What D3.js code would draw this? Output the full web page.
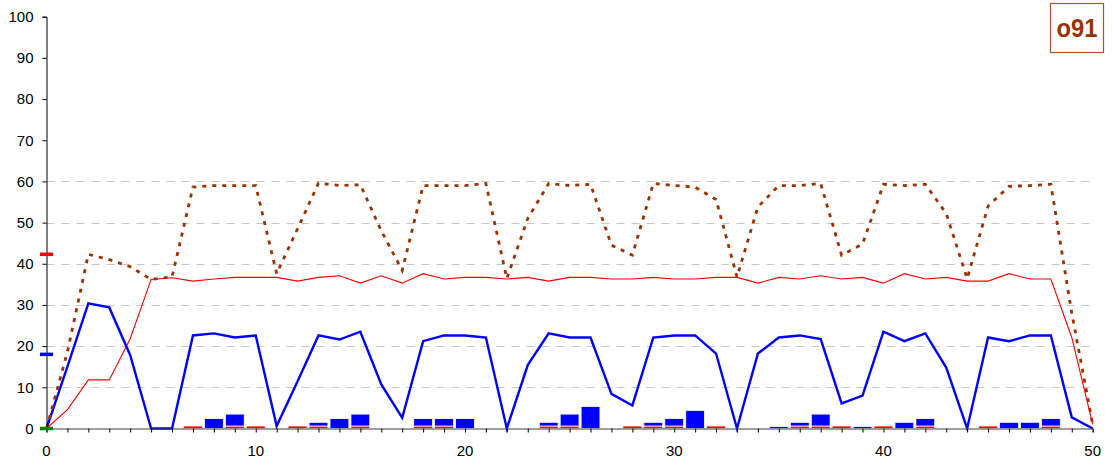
<!DOCTYPE html>
<html>
<head>
<meta charset="utf-8">
<script src="https://cdn.jsdelivr.net/npm/d3@7"></script>
<style>
  html, body { margin: 0; padding: 0; background: #fff; }
  svg { display: block; }
  text { font-family: "Liberation Sans", Arial, sans-serif; }
</style>
</head>
<body>
<svg id="chart" width="1112" height="461"></svg>
<script>
// Series values, one per x step (0..50)
const steps = d3.range(0, 51);

const blueLine = [0, 15, 30.4, 29.4, 17.8, 0, 0, 22.6, 23.1, 22.1, 22.6, 0.6, 11.5, 22.6, 21.6, 23.5,
  10.7, 2.6, 21.2, 22.6, 22.6, 22.1, 0, 15.4, 23.1, 22.1, 22.1, 8.4, 5.6, 22.1, 22.6, 22.6, 18.2, 0,
  18.2, 22.1, 22.6, 21.7, 6.1, 8.0, 23.5, 21.2, 23.1, 14.8, 0, 22.1, 21.2, 22.6, 22.6, 2.7, 0];

const redLine = [0, 4.6, 11.8, 11.8, 21.8, 36.2, 36.6, 35.8, 36.3, 36.7, 36.7, 36.7, 35.8, 36.7, 37.1,
  35.3, 37.1, 35.3, 37.6, 36.3, 36.7, 36.7, 36.3, 36.7, 35.8, 36.7, 36.7, 36.3, 36.3, 36.7, 36.3, 36.3,
  36.7, 36.7, 35.3, 36.7, 36.3, 37.1, 36.3, 36.7, 35.3, 37.6, 36.3, 36.7, 35.8, 35.8, 37.6, 36.3, 36.3,
  22.1, 1];

const brownLine = [0, 18.6, 42.3, 41.0, 39.3, 36.2, 36.8, 58.6, 59, 59, 59, 37.6, 48.5, 59.6, 59, 59.2,
  48, 38.4, 59, 59, 59, 59.5, 36.4, 51, 59.5, 59, 59.3, 44.5, 42.1, 59.5, 59, 58.6, 55.6, 36.8, 53.8,
  59, 59, 59.5, 42.1, 44.8, 59.3, 59, 59.3, 52.2, 36.4, 54, 58.8, 59, 59.3, 28, 1];

const redBars = [0, 0, 0, 0, 0, 0, 0, 0.6, 0, 0.6, 0.6, 0, 0.6, 0.6, 0, 0.6, 0, 0, 0.6, 0.6, 0, 0, 0, 0,
  0.6, 0.6, 0, 0, 0.6, 0.6, 0.6, 0, 0.6, 0, 0, 0, 0.6, 0.6, 0.6, 0, 0.6, 0, 0.6, 0, 0, 0.6, 0, 0, 0.6, 0, 0];

const blueBars = [0, 0, 0, 0, 0, 0, 0, 0, 2.4, 2.9, 0, 0, 0, 0.9, 2.4, 2.9, 0, 0, 1.8, 1.8, 2.4, 0, 0, 0,
  0.9, 2.9, 5.35, 0, 0, 0.9, 1.8, 4.4, 0, 0, 0, 0.5, 0.9, 2.9, 0, 0.5, 0, 1.5, 1.8, 0, 0, 0, 1.5, 1.5, 1.8, 0, 0];

// Short markers on the value axis
const axisMarkers = [
  { value: 42.3, color: "#ff0000" },
  { value: 18, color: "#0000ff" },
  { value: 0, color: "#008000" }
];

const yTicks = d3.range(0, 101, 10);
const gridValues = [10, 20, 30, 40, 50, 60];
const xLabelTicks = [0, 10, 20, 30, 40, 50];
const badgeText = "o91";

const svg = d3.select("#chart");
const x = d3.scaleLinear().domain([0, 50]).range([46.5, 1092.7]);
const y = d3.scaleLinear().domain([0, 100]).range([428.5, 16.7]);

// dashed gridlines
svg.append("g").selectAll("line").data(gridValues).join("line")
  .attr("x1", x(0)).attr("x2", x(50))
  .attr("y1", d => Math.round(y(d)) + 0.5).attr("y2", d => Math.round(y(d)) + 0.5)
  .attr("stroke", "#c8c8c8").attr("stroke-width", 1).attr("stroke-dasharray", "8,7");

// stacked bars
const barW = (x(1) - x(0)) * 0.9;
const bars = svg.append("g");
bars.selectAll("rect.r").data(steps.filter(i => redBars[i] > 0)).join("rect")
  .attr("class", "r")
  .attr("x", i => x(i) - barW / 2).attr("width", barW)
  .attr("y", i => y(redBars[i])).attr("height", i => y(0) - y(redBars[i]))
  .attr("fill", "#ff0000").attr("stroke", "#ffffff").attr("stroke-width", 0.7);
bars.selectAll("rect.b").data(steps.filter(i => blueBars[i] > 0)).join("rect")
  .attr("class", "b")
  .attr("x", i => x(i) - barW / 2).attr("width", barW)
  .attr("y", i => y(redBars[i] + blueBars[i])).attr("height", i => y(redBars[i]) - y(redBars[i] + blueBars[i]))
  .attr("fill", "#0000ff").attr("stroke", "#ffffff").attr("stroke-width", 0.8);

// lines
const line = vals => d3.line().x(i => x(i)).y(i => y(vals[i]))(steps);
svg.append("path").attr("d", line(redLine))
  .attr("fill", "none").attr("stroke", "#ff0000").attr("stroke-width", 1.1);
svg.append("path").attr("d", line(blueLine))
  .attr("fill", "none").attr("stroke", "#0000ff").attr("stroke-width", 2.4).attr("stroke-linejoin", "miter");
svg.append("path").attr("d", line(brownLine))
  .attr("fill", "none").attr("stroke", "#993300").attr("stroke-width", 2.8)
  .attr("stroke-dasharray", "4,6");

// x axis
const xAxis = svg.append("g").attr("transform", `translate(0,${y(0)})`)
  .call(d3.axisBottom(x).tickValues(steps).tickSize(4).tickFormat(""));
xAxis.select(".domain").attr("stroke", "#404040");
xAxis.selectAll(".tick line").attr("stroke", "#000");
svg.append("g").selectAll("text").data(xLabelTicks).join("text")
  .attr("x", d => x(d)).attr("y", 456)
  .attr("text-anchor", "middle").attr("font-size", 15).attr("fill", "#000")
  .text(d => d);

// y axis
const yAxis = svg.append("g").attr("transform", `translate(${x(0)},0)`)
  .call(d3.axisLeft(y).tickValues(yTicks).tickSize(4).tickPadding(9));
yAxis.select(".domain").attr("stroke", "#000");
yAxis.selectAll(".tick line").attr("stroke", "#000");
yAxis.selectAll(".tick text").attr("font-size", 15).attr("fill", "#000")
  .attr("font-family", "'Liberation Sans', Arial, sans-serif");

// axis markers
svg.append("g").selectAll("line").data(axisMarkers).join("line")
  .attr("x1", 40).attr("x2", 53)
  .attr("y1", d => y(d.value)).attr("y2", d => y(d.value))
  .attr("stroke", d => d.color).attr("stroke-width", 3.5);

// badge
svg.append("rect").attr("x", 1050.5).attr("y", 3.5).attr("width", 53).attr("height", 49)
  .attr("fill", "#fff").attr("stroke", "#b0552a").attr("stroke-width", 1.2);
svg.append("text").attr("x", 1077).attr("y", 37)
  .attr("text-anchor", "middle").attr("font-size", 26).attr("font-weight", "bold")
  .attr("fill", "#993300").attr("textLength", 41).attr("lengthAdjust", "spacingAndGlyphs")
  .text(badgeText);
</script>
</body>
</html>
